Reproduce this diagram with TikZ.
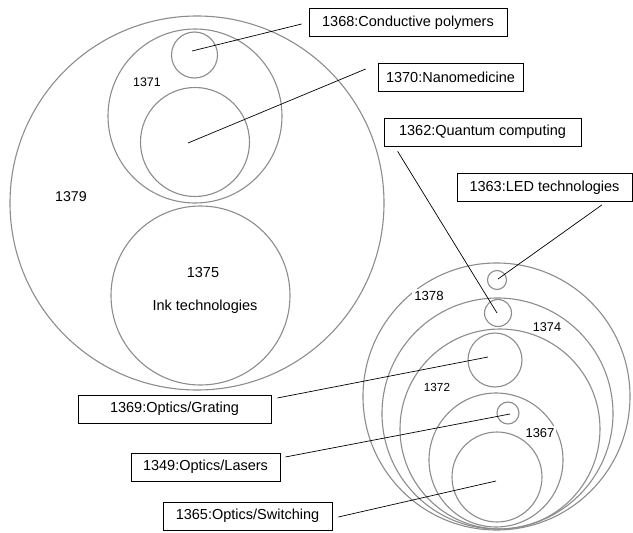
\documentclass[tikz,border=0pt]{standalone}
\usepackage{fontspec}
\setmainfont{Liberation Sans}
\begin{document}
\begin{tikzpicture}[x=1pt,y=-1pt,
  circ/.style={draw=black!45,line width=1.1pt,circle,inner sep=0pt},
  lbox/.style={draw=black,line width=0.7pt,fill=white,inner sep=0pt,minimum height=28pt,font=\fontsize{14.5}{16}\selectfont},
  conn/.style={draw=black,line width=0.7pt},
  num/.style={inner sep=1pt,font=\fontsize{#1}{#1}\selectfont},
  wnum/.style={fill=white,inner sep=2pt,font=\fontsize{#1}{#1}\selectfont}]
\useasboundingbox (0,0) rectangle (633,533);
% left group
\node[circ,minimum size=374pt] (c1379) at (197,203) {};
\node[circ,minimum size=174pt] (c1371) at (195,116) {};
\node[circ,minimum size=46pt] (c1368) at (194.5,55) {};
\node[circ,minimum size=109pt] (c1370) at (195,142) {};
\node[circ,minimum size=179pt] (c1375) at (200.5,295.5) {};
\node[num=12.4] (t1371) at (147,82) {1371};
\node[num=14.2] (t1379) at (71,197) {1379};
\node[num=14.5] (t1375) at (203,273) {1375};
\node[num=14.5] (tink) at (205,307) {Ink technologies};
% right group
\node[circ,minimum size=267pt] (c1378) at (496.5,396.5) {};
\node[circ,minimum size=19pt] (c1363) at (497,280) {};
\node[circ,minimum size=231pt] (c1374) at (497.5,413.5) {};
\node[circ,minimum size=27pt] (c1362) at (498,313) {};
\node[circ,minimum size=200pt] (c1372) at (500,429) {};
\node[circ,minimum size=54pt] (c1369) at (495,360) {};
\node[circ,minimum size=134pt] (c1367) at (496,460) {};
\node[circ,minimum size=22pt] (c1349) at (508,413) {};
\node[circ,minimum size=90pt] (c1365) at (497,477) {};
\node[wnum=13.2] (t1378) at (429,296) {1378};
\node[wnum=12.7] (t1374) at (547,327) {1374};
\node[num=11.7] (t1372) at (437,387) {1372};
\node[wnum=12.9] (t1367) at (540,433) {1367};
% label boxes
\node[lbox,minimum width=198pt] (b1368) at (408,22.5) {1368:Conductive polymers};
\node[lbox,minimum width=145pt] (b1370) at (450.5,77) {1370:Nanomedicine};
\node[lbox,minimum width=197pt] (b1362) at (482.5,132) {1362:Quantum computing};
\node[lbox,minimum width=175pt] (b1363) at (544.5,187.5) {1363:LED technologies};
\node[lbox,minimum width=193pt] (b1369) at (174.5,409) {1369:Optics/Grating};
\node[lbox,minimum width=149pt] (b1349) at (205.5,467) {1349:Optics/Lasers};
\node[lbox,minimum width=169pt] (b1365) at (247.5,516) {1365:Optics/Switching};
% connector ends
\coordinate (e1368) at (192,51);
\coordinate (e1370) at (188,143);
\coordinate (e1362) at (497,313);
\coordinate (e1363) at (498,279);
\coordinate (e1369) at (488,357);
\coordinate (e1349) at (510,414);
\coordinate (e1365) at (496,481);
\draw[conn] ([xshift=-7pt,yshift=-1.5pt]b1368.west) -- (e1368);
\draw[conn] ([xshift=-12pt,yshift=8pt]b1370.west) -- (e1370);
\draw[conn] ([xshift=14pt,yshift=-5pt]b1362.south west) -- (e1362);
\draw[conn] ([xshift=57.5pt,yshift=-3pt]b1363.south) -- (e1363);
\draw[conn] ([xshift=6pt,yshift=11pt]b1369.east) -- (e1369);
\draw[conn] ([xshift=5pt,yshift=10pt]b1349.east) -- (e1349);
\draw[conn] ([xshift=6pt,yshift=-1pt]b1365.east) -- (e1365);
\end{tikzpicture}
\end{document}
